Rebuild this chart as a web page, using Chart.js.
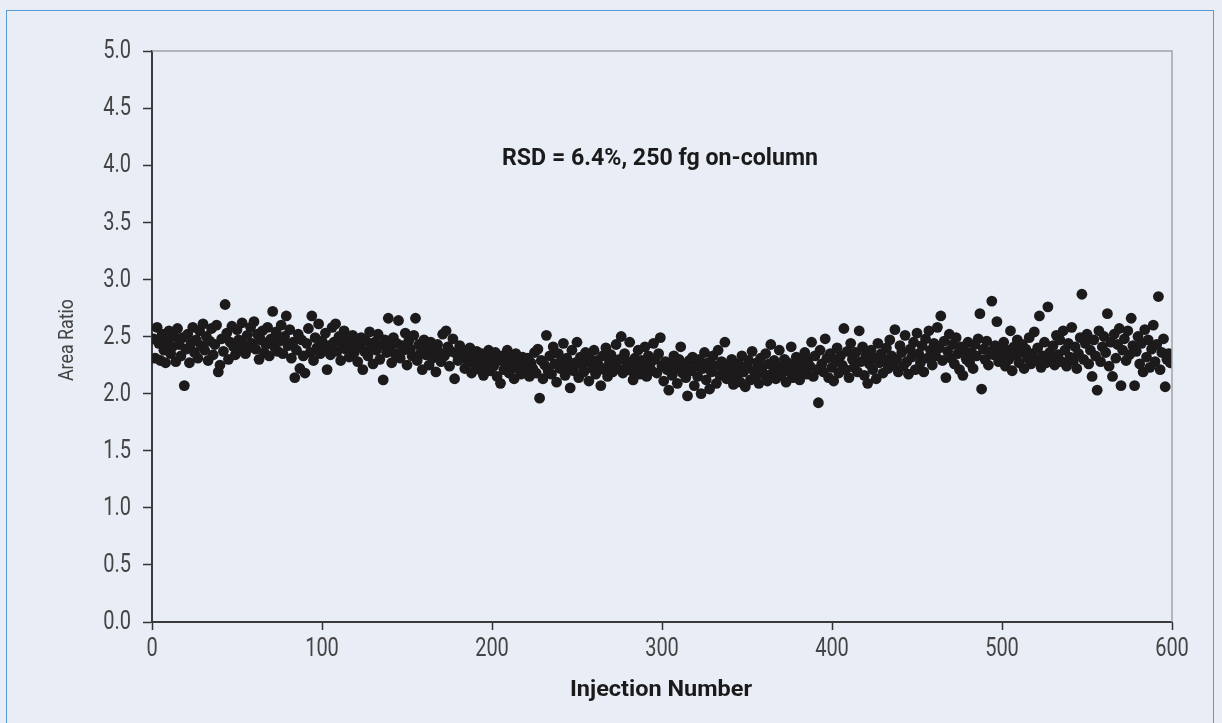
<!DOCTYPE html>
<html>
<head>
<meta charset="utf-8">
<script src="https://cdn.jsdelivr.net/npm/chart.js@4.4.1/dist/chart.umd.min.js"></script>
<style>
  html, body { margin: 0; padding: 0; background: #e8edf6; }
  #wrap { position: relative; width: 1222px; height: 723px; overflow: hidden; background: #e8edf6; }
  #frame { position: absolute; left: 6px; top: 10px; width: 1208px; height: 760px; border: 1px solid #5b9bd5; box-sizing: border-box; }
  canvas { position: absolute; left: 0; top: 0; }
</style>
</head>
<body>
<div id="wrap">
  <div id="frame"></div>
  <canvas id="c" width="1222" height="723"></canvas>
</div>
<script>
// Area ratio per injection (injections 1..600)
const areaRatio = [
  2.48, 2.31, 2.58, 2.44, 2.29, 2.52, 2.38, 2.27, 2.46, 2.55, 2.35, 2.41, 2.50, 2.28, 2.57, 2.43, 2.33, 2.49, 2.07, 2.39,
  2.52, 2.27, 2.44, 2.58, 2.36, 2.47, 2.31, 2.55, 2.42, 2.61, 2.38, 2.50, 2.29, 2.46, 2.57, 2.34, 2.43, 2.60, 2.19, 2.25,
  2.48, 2.37, 2.78, 2.53, 2.30, 2.45, 2.59, 2.41, 2.34, 2.56, 2.47, 2.38, 2.62, 2.43, 2.35, 2.51, 2.40, 2.58, 2.44, 2.63,
  2.39, 2.52, 2.30, 2.47, 2.55, 2.36, 2.43, 2.58, 2.33, 2.48, 2.72, 2.41, 2.54, 2.37, 2.46, 2.60, 2.35, 2.50, 2.68, 2.42,
  2.56, 2.31, 2.45, 2.14, 2.38, 2.52, 2.22, 2.47, 2.33, 2.18, 2.44, 2.57, 2.36, 2.68, 2.29, 2.49, 2.40, 2.61, 2.35, 2.46,
  2.38, 2.53, 2.21, 2.42, 2.34, 2.58, 2.45, 2.61, 2.37, 2.50, 2.29, 2.44, 2.55, 2.39, 2.47, 2.32, 2.43, 2.51, 2.36, 2.45,
  2.28, 2.41, 2.49, 2.21, 2.37, 2.46, 2.33, 2.54, 2.40, 2.26, 2.45, 2.38, 2.52, 2.30, 2.43, 2.12, 2.47, 2.36, 2.66, 2.41,
  2.27, 2.49, 2.35, 2.44, 2.64, 2.31, 2.42, 2.38, 2.53, 2.25, 2.46, 2.39, 2.33, 2.51, 2.66, 2.29, 2.43, 2.36, 2.21, 2.47,
  2.34, 2.40, 2.25, 2.45, 2.31, 2.38, 2.19, 2.43, 2.36, 2.28, 2.52, 2.33, 2.55, 2.41, 2.24, 2.37, 2.48, 2.13, 2.35, 2.29,
  2.42, 2.31, 2.38, 2.22, 2.34, 2.27, 2.40, 2.18, 2.33, 2.25, 2.37, 2.29, 2.21, 2.35, 2.16, 2.31, 2.26, 2.38, 2.20, 2.32,
  2.24, 2.36, 2.15, 2.29, 2.09, 2.33, 2.21, 2.27, 2.38, 2.18, 2.30, 2.24, 2.13, 2.35, 2.22, 2.28, 2.17, 2.32, 2.25, 2.20,
  2.31, 2.15, 2.27, 2.22, 2.36, 2.18, 2.39, 1.96, 2.29, 2.13, 2.25, 2.51, 2.20, 2.33, 2.17, 2.41, 2.26, 2.10, 2.35, 2.22,
  2.28, 2.44, 2.16, 2.31, 2.23, 2.05, 2.38, 2.20, 2.27, 2.45, 2.14, 2.32, 2.25, 2.19, 2.36, 2.28, 2.11, 2.30, 2.22, 2.38,
  2.17, 2.29, 2.24, 2.07, 2.33, 2.21, 2.40, 2.15, 2.27, 2.34, 2.19, 2.26, 2.43, 2.22, 2.30, 2.50, 2.18, 2.35, 2.23, 2.28,
  2.45, 2.20, 2.12, 2.31, 2.25, 2.38, 2.17, 2.29, 2.23, 2.41, 2.15, 2.33, 2.26, 2.20, 2.44, 2.30, 2.18, 2.35, 2.49, 2.24,
  2.11, 2.28, 2.21, 2.03, 2.26, 2.16, 2.33, 2.22, 2.09, 2.30, 2.41, 2.18, 2.25, 2.14, 1.98, 2.29, 2.20, 2.32, 2.07, 2.24,
  2.15, 2.30, 2.00, 2.22, 2.36, 2.12, 2.27, 2.04, 2.19, 2.33, 2.24, 2.09, 2.38, 2.16, 2.28, 2.21, 2.45, 2.13, 2.25, 2.18,
  2.30, 2.08, 2.22, 2.14, 2.26, 2.10, 2.33, 2.19, 2.06, 2.24, 2.29, 2.12, 2.37, 2.20, 2.15, 2.27, 2.09, 2.31, 2.23, 2.17,
  2.35, 2.11, 2.26, 2.43, 2.18, 2.29, 2.13, 2.24, 2.38, 2.16, 2.21, 2.30, 2.10, 2.27, 2.19, 2.41, 2.14, 2.25, 2.32, 2.20,
  2.12, 2.28, 2.22, 2.36, 2.17, 2.30, 2.24, 2.45, 2.15, 2.33, 2.21, 1.92, 2.38, 2.26, 2.19, 2.48, 2.31, 2.14, 2.35, 2.23,
  2.11, 2.29, 2.40, 2.18, 2.33, 2.25, 2.57, 2.21, 2.37, 2.14, 2.44, 2.30, 2.23, 2.36, 2.19, 2.55, 2.28, 2.41, 2.16, 2.34,
  2.09, 2.26, 2.38, 2.21, 2.31, 2.13, 2.44, 2.27, 2.35, 2.18, 2.29, 2.40, 2.22, 2.47, 2.33, 2.25, 2.56, 2.30, 2.19, 2.42,
  2.36, 2.24, 2.51, 2.28, 2.17, 2.39, 2.32, 2.45, 2.21, 2.53, 2.35, 2.27, 2.42, 2.19, 2.48, 2.31, 2.55, 2.38, 2.25, 2.44,
  2.33, 2.58, 2.40, 2.68, 2.29, 2.46, 2.14, 2.37, 2.52, 2.31, 2.43, 2.26, 2.49, 2.35, 2.21, 2.41, 2.16, 2.38, 2.30, 2.45,
  2.27, 2.36, 2.22, 2.43, 2.33, 2.48, 2.70, 2.04, 2.39, 2.30, 2.46, 2.25, 2.37, 2.81, 2.34, 2.42, 2.63, 2.28, 2.40, 2.32,
  2.45, 2.24, 2.38, 2.30, 2.55, 2.20, 2.41, 2.34, 2.47, 2.27, 2.36, 2.43, 2.22, 2.39, 2.31, 2.49, 2.26, 2.35, 2.54, 2.29,
  2.40, 2.68, 2.23, 2.33, 2.45, 2.27, 2.76, 2.36, 2.30, 2.42, 2.25, 2.51, 2.34, 2.47, 2.28, 2.55, 2.38, 2.24, 2.44, 2.32,
  2.58, 2.29, 2.41, 2.22, 2.35, 2.49, 2.87, 2.30, 2.44, 2.52, 2.26, 2.38, 2.15, 2.47, 2.33, 2.03, 2.55, 2.28, 2.41, 2.50,
  2.36, 2.70, 2.24, 2.45, 2.15, 2.52, 2.31, 2.43, 2.57, 2.07, 2.38, 2.48, 2.29, 2.55, 2.34, 2.66, 2.42, 2.07, 2.37, 2.50,
  2.26, 2.44, 2.19, 2.56, 2.32, 2.47, 2.23, 2.39, 2.60, 2.28, 2.43, 2.85, 2.21, 2.36, 2.48, 2.06, 2.30, 2.35, 2.27, 2.33
];
const injectionNumbers = areaRatio.map((_, i) => i + 1);
const xTickValues = [0, 100, 200, 300, 400, 500, 600];
const yTickValues = [0.0, 0.5, 1.0, 1.5, 2.0, 2.5, 3.0, 3.5, 4.0, 4.5, 5.0];
const xAxisTitle = "Injection Number";
const yAxisTitle = "Area Ratio";
const annotationText = "RSD = 6.4%, 250 fg on-column";

const FONT = "Roboto, 'Liberation Sans', sans-serif";
const SQUEEZE = 0.8;

function squeezedText(ctx, text, x, y, sx) {
  ctx.save();
  ctx.translate(x, y);
  ctx.scale(sx, 1);
  ctx.fillText(text, 0, 0);
  ctx.restore();
}
function fitText(ctx, text, x, y, targetW) {
  const w = ctx.measureText(text).width;
  squeezedText(ctx, text, x, y, targetW / w);
}

const textPlugin = {
  id: 'texts',
  afterDraw(chart) {
    const ctx = chart.ctx;
    const ca = chart.chartArea;
    const xs = chart.scales.x, ys = chart.scales.y;
    ctx.save();
    // top and right frame of plot area
    ctx.strokeStyle = '#9ea4ab';
    ctx.lineWidth = 1.5;
    ctx.beginPath();
    ctx.moveTo(ca.left, ca.top);
    ctx.lineTo(ca.right, ca.top);
    ctx.lineTo(ca.right, ca.bottom);
    ctx.stroke();

    // tick labels, positioned by the library's scales
    ctx.fillStyle = '#444444';
    ctx.font = "400 25px " + FONT;
    ctx.textBaseline = 'middle';
    ctx.textAlign = 'center';
    xs.ticks.forEach(t => {
      squeezedText(ctx, String(t.value), xs.getPixelForValue(t.value), 650, SQUEEZE);
    });
    ctx.textAlign = 'right';
    ys.ticks.forEach(t => {
      squeezedText(ctx, Number(t.value).toFixed(1), 131, ys.getPixelForValue(t.value) + 1, SQUEEZE);
    });

    // annotation and axis titles
    ctx.fillStyle = '#1a1a1a';
    ctx.textAlign = 'center';
    ctx.font = "bold 23px " + FONT;
    fitText(ctx, annotationText, 660, 159, 316);

    ctx.font = "bold 22px " + FONT;
    fitText(ctx, xAxisTitle, 661, 690, 182);

    ctx.fillStyle = '#444444';
    ctx.font = "400 21px " + FONT;
    ctx.translate(68, 340);
    ctx.rotate(-Math.PI / 2);
    fitText(ctx, yAxisTitle, 0, 0, 82);
    ctx.restore();
  }
};

new Chart(document.getElementById('c'), {
  type: 'scatter',
  data: {
    datasets: [{
      data: areaRatio.map((v, i) => ({ x: injectionNumbers[i], y: v })),
      backgroundColor: '#1c1a1b',
      borderWidth: 0,
      pointRadius: 5.4,
      pointHoverRadius: 5.4
    }]
  },
  options: {
    responsive: false,
    animation: false,
    devicePixelRatio: 1,
    layout: { padding: { left: 0, top: 51, right: 50, bottom: 0 } },
    plugins: { legend: { display: false }, tooltip: { enabled: false } },
    scales: {
      x: {
        type: 'linear',
        min: 0, max: 600,
        afterBuildTicks(scale) { scale.ticks = xTickValues.map(v => ({ value: v })); },
        afterFit(scale) { scale.height = 101; },
        grid: { drawOnChartArea: false, drawTicks: true, tickLength: 8, tickWidth: 1.5, color: '#333' },
        border: { display: true, color: '#3a3a3a', width: 2 },
        ticks: { display: false }
      },
      y: {
        type: 'linear',
        min: 0, max: 5,
        afterBuildTicks(scale) { scale.ticks = yTickValues.map(v => ({ value: v })); },
        afterFit(scale) { scale.width = 152; },
        grid: { drawOnChartArea: false, drawTicks: true, tickLength: 9, tickWidth: 1.5, color: '#333' },
        border: { display: true, color: '#3a3a3a', width: 2 },
        ticks: { display: false }
      }
    }
  },
  plugins: [textPlugin]
});
</script>
</body>
</html>
